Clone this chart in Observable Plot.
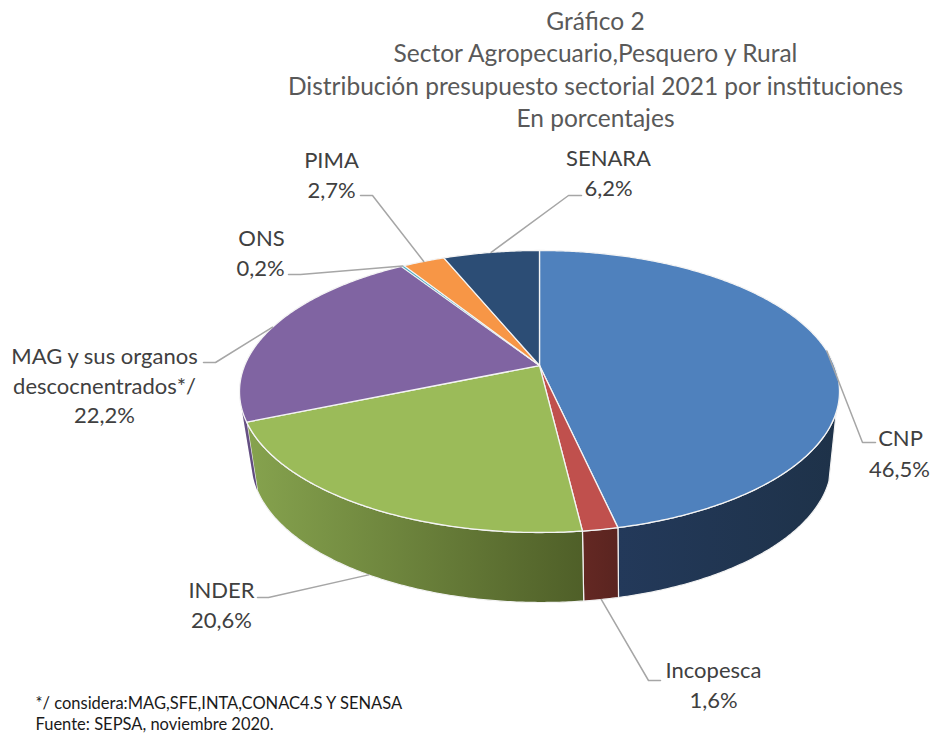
<!DOCTYPE html>
<html>
<head>
<meta charset="utf-8">
<script src="https://cdn.jsdelivr.net/npm/d3@7"></script>
<script src="https://cdn.jsdelivr.net/npm/@observablehq/plot@0.6"></script>
<style>
html,body{margin:0;padding:0;background:#fff}
svg{display:block}
</style>
</head>
<body>
<div id="chart"></div>
<script>
// ---- data ----
const categories = ["CNP", "Incopesca", "INDER", "MAG y sus organos descocnentrados*/", "ONS", "PIMA", "SENARA"];
const values = [46.5, 1.6, 20.6, 22.2, 0.2, 2.7, 6.2];
const valueLabels = ["46,5%", "1,6%", "20,6%", "22,2%", "0,2%", "2,7%", "6,2%"];
const titleLines = ["Gráfico 2", "Sector Agropecuario,Pesquero y Rural", "Distribución presupuesto sectorial 2021 por instituciones", "En porcentajes"];
const noteLines = ["*/ considera:MAG,SFE,INTA,CONAC4.S Y SENASA", "Fuente: SEPSA, noviembre 2020."];

// ---- styles and layout (separate from the data) ----
const topColors = ["#4f81bd", "#c0504d", "#9bbb59", "#8064a2", "#4bacc6", "#f79646", "#2c4d75"];
const sideGradients = [
  ["#23395a", "#1e3249"], ["#642823", "#5a2420"], ["#86a34e", "#4f5f28"], ["#6a5388", "#5d4a7c"],
  ["#3a8ca3", "#3a8ca3"], ["#c9793a", "#c9793a"], ["#233e5e", "#233e5e"]
];
const topDisc = {cx: 539, cy: 391, rx: 300, ry: 141, d: 0.184};
const bottomDisc = {cx: 541, cy: 462, rx: 290, ry: 140, d: 0.2};
const frontFrom = 108.9, frontTo = 253;
const leaderBends = [
  [[862, 442], [875, 442]], [[648, 680], [660, 680]], [[268, 597], [257, 597]], [[215, 362], [203, 362]],
  [[300, 274], [288, 274]], [[372, 195], [360, 195]], [[568, 195], [581, 195]]
];
const labelLines = [
  [[categories[0], 900, 438], [valueLabels[0], 899, 469]],
  [[categories[1], 713, 670], [valueLabels[1], 713, 700]],
  [[categories[2], 221, 590], [valueLabels[2], 221, 620]],
  [["MAG y sus organos", 104, 356], ["descocnentrados*/", 104, 386], [valueLabels[3], 104, 415]],
  [[categories[4], 261, 238], [valueLabels[4], 260, 268]],
  [[categories[5], 331, 160], [valueLabels[5], 331, 190]],
  [[categories[6], 608, 158], [valueLabels[6], 608, 188]]
];

// ---- geometry derived from the values ----
function rim(disc, deg) {
  const a = deg * Math.PI / 180, u = Math.sin(a), v = -Math.cos(a), k = 1 - disc.d * v;
  return [disc.cx + disc.rx * u * Math.sqrt(1 - disc.d * disc.d) / k, disc.cy + disc.ry * (v - disc.d) / k];
}
const apex = [topDisc.cx, topDisc.cy + topDisc.ry * -topDisc.d];
const total = d3.sum(values);
const cum = d3.cumsum(values);
const slices = values.map((v, i) => ({i, a0: (cum[i] - v) / total * 360, a1: cum[i] / total * 360}));
const arc = (disc, a0, a1) => {
  const n = Math.max(2, Math.ceil(a1 - a0) * 2);
  return d3.range(n + 1).map(k => rim(disc, a0 + (a1 - a0) * k / n));
};
const topPolys = slices.map(s => [apex, ...arc(topDisc, s.a0, s.a1), apex]);
const sidePolys = slices.map(s => {
  const a0 = Math.max(s.a0, frontFrom), a1 = Math.min(s.a1, frontTo);
  if (a1 <= a0) return null;
  const t = arc(topDisc, a0, a1), b = arc(bottomDisc, a0, a1).reverse();
  return [...t, ...b, t[0]];
});
const leaders = slices.map(s => {
  const mid = (s.a0 + s.a1) / 2;
  const start = rim(mid > frontFrom && mid < frontTo ? bottomDisc : topDisc, mid);
  return [start, ...leaderBends[s.i]];
});
const labelRows = labelLines.flat().map(([text, x, y]) => ({text, x, y}));
const titleRows = titleLines.map((text, i) => ({text, x: 595, y: [22, 54, 87, 119][i]}));
const noteRows = noteLines.map((text, i) => ({text, x: 35, y: [703, 724][i]}));

const defs = () => {
  const s = d3.create("svg:defs");
  sideGradients.forEach((g, i) => {
    const lg = s.append("linearGradient").attr("id", "side" + i);
    lg.append("stop").attr("offset", "0").attr("stop-color", g[0]);
    lg.append("stop").attr("offset", "1").attr("stop-color", g[1]);
  });
  return s.node();
};

const font = "Lato, Carlito, 'Open Sans', sans-serif";
const chart = Plot.plot({
  width: 931, height: 733, margin: 0,
  x: {type: "identity", axis: null}, y: {type: "identity", axis: null},
  style: {background: "#fff", fontFamily: font},
  marks: [
    defs,
    ...sidePolys.map((p, i) => p && Plot.line(p, {
      x: d => d[0], y: d => d[1], fill: `url(#side${i})`, stroke: i === 3 ? "none" : "#f2f2f2", strokeWidth: 1.2, curve: "linear"
    })),
    ...topPolys.map((p, i) => Plot.line(p, {
      x: d => d[0], y: d => d[1], fill: topColors[i], stroke: "#f4f4f4", strokeWidth: i === 4 ? 0.8 : 1.3, curve: "linear"
    })),
    ...leaders.map(p => Plot.line(p, {
      x: d => d[0], y: d => d[1], stroke: "#a6a6a6", strokeWidth: 1.5, curve: "linear"
    })),
    Plot.text(labelRows, {x: "x", y: "y", text: "text", fontSize: 22, fill: "#404040", textAnchor: "middle", lineAnchor: "middle"}),
    Plot.text(titleRows, {x: "x", y: "y", text: "text", fontSize: 24.5, fill: "#595959", textAnchor: "middle", lineAnchor: "middle"}),
    Plot.text(noteRows, {x: "x", y: "y", text: "text", fontSize: 16.5, fill: "#1a1a1a", textAnchor: "start", lineAnchor: "middle"})
  ].filter(Boolean)
});
document.getElementById("chart").append(chart);
</script>
</body>
</html>
